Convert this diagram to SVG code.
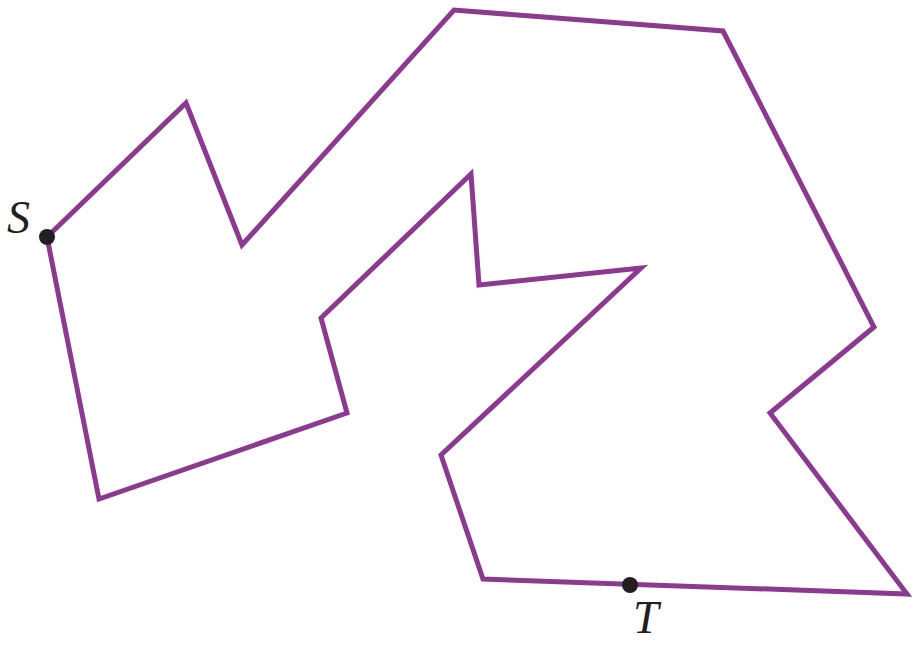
<svg xmlns="http://www.w3.org/2000/svg" width="912" height="645" viewBox="0 0 912 645">
<style>
.edge{fill:none;stroke:#8B3A8F;stroke-width:5;stroke-linejoin:miter;stroke-miterlimit:20}
.pt{fill:#231F20}
.lbl{font-family:"Liberation Serif","Times New Roman",serif;font-style:italic;font-size:46px;fill:#231F20}
</style>
<rect width="912" height="645" fill="#fff"/>
<g id="connectors">
<polygon class="edge" points="47,237 186,103 242,245 454,10 723,31 874,327 770,413 907,594 483,579 441,455 641,268 479,285 471,174 321,318 347,413 99,499"/>
</g>
<g id="S"><circle class="pt" cx="47" cy="237" r="8"/><text class="lbl" x="7" y="233">S</text></g>
<g id="T"><circle class="pt" cx="630" cy="585" r="8"/><text class="lbl" x="633" y="633">T</text></g>
</svg>
